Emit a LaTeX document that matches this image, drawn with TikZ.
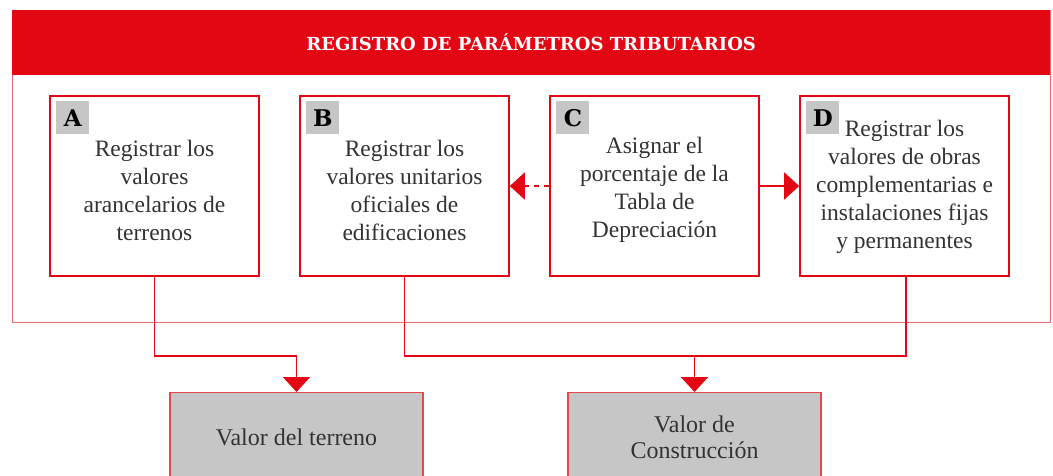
\documentclass[tikz,border=0pt]{standalone}
\usepackage{fontspec}
\setmainfont{Liberation Serif}
\newfontfamily\slabfont{DejaVu Serif}
\usetikzlibrary{arrows.meta,calc}
\definecolor{myred}{HTML}{E30613}
\definecolor{framered}{HTML}{EE6A72}
\definecolor{badgegray}{HTML}{C6C6C6}
\definecolor{txt}{HTML}{333333}
\tikzset{
  stepbox/.style={draw=myred, line width=1.6pt, fill=white, minimum width=209pt, minimum height=180pt, inner sep=0pt},
  bodytext/.style={text=txt, align=center, font=\fontsize{23.5}{28}\selectfont},
  badge/.style={fill=badgegray, minimum width=33pt, minimum height=33pt, inner sep=0pt, font=\slabfont\bfseries\fontsize{23}{23}\selectfont, text=black, anchor=north west},
  resultbox/.style={draw=myred!75, line width=1.2pt, fill=badgegray, minimum width=253pt, minimum height=90pt, anchor=north, text=txt, align=center, font=\fontsize{24}{26}\selectfont},
  conn/.style={draw=myred, line width=1.9pt},
  tip/.style={-{Triangle[width=27pt,length=15pt]}},
}
\begin{document}
\begin{tikzpicture}[x=1pt,y=-1pt]
\clip (0,0) rectangle (1053,475);
\fill[white] (0,0) rectangle (1053,475);
% outer frame and header
\draw[framered, line width=1pt] (12,10) rectangle (1050,322);
\node[fill=myred, minimum width=1038pt, minimum height=65pt, inner sep=0pt, anchor=north west, text=white, font=\slabfont\bfseries\fontsize{18}{20}\selectfont] (head) at (12,10) {REGISTRO DE PARÁMETROS TRIBUTARIOS};
% step boxes
\node[stepbox] (A) at (154.5,186) {};
\node[stepbox] (B) at (404.5,186) {};
\node[stepbox] (C) at (654.5,186) {};
\node[stepbox] (D) at (904.5,186) {};
\node[badge] (Ab) at ([xshift=7pt,yshift=-6pt]A.north west) {A};
\node[badge] (Bb) at ([xshift=7pt,yshift=-6pt]B.north west) {B};
\node[badge] (Cb) at ([xshift=7pt,yshift=-6pt]C.north west) {C};
\node[badge] (Db) at ([xshift=7pt,yshift=-6pt]D.north west) {D};
\node[bodytext] (At) at (154.5,190) {Registrar los\\valores\\arancelarios de\\terrenos};
\node[bodytext] (Bt) at (404.5,190) {Registrar los\\valores unitarios\\oficiales de\\edificaciones};
\node[bodytext] (Ct) at (654.5,190) {Asignar el\\porcentaje de la\\Tabla de\\Depreciación};
\node[bodytext] (Dt) at (904.5,187) {Registrar los\\valores de obras\\complementarias e\\instalaciones fijas\\y permanentes};
% arrows between C and B / D
\draw[conn, dash pattern=on 5pt off 5pt, tip] (C.west) -- (B.east);
\draw[conn, tip] (C.east) -- (D.west);
% result boxes
\node[resultbox] (T) at (296.5,392) {Valor del terreno};
\node[resultbox] (V) at (694.5,392) {Valor de\\Construcción};
% connectors
\coordinate (jT) at (296.5,356);
\coordinate (jV) at (694.5,356);
\coordinate (jD) at (906,356);
\draw[conn] (A.south) |- (jT);
\draw[conn, tip] (jT) -- (T.north);
\draw[conn] (B.south) |- (jD) -- (jD |- D.south);
\draw[conn, tip] (jV) -- (V.north);
\end{tikzpicture}
\end{document}
